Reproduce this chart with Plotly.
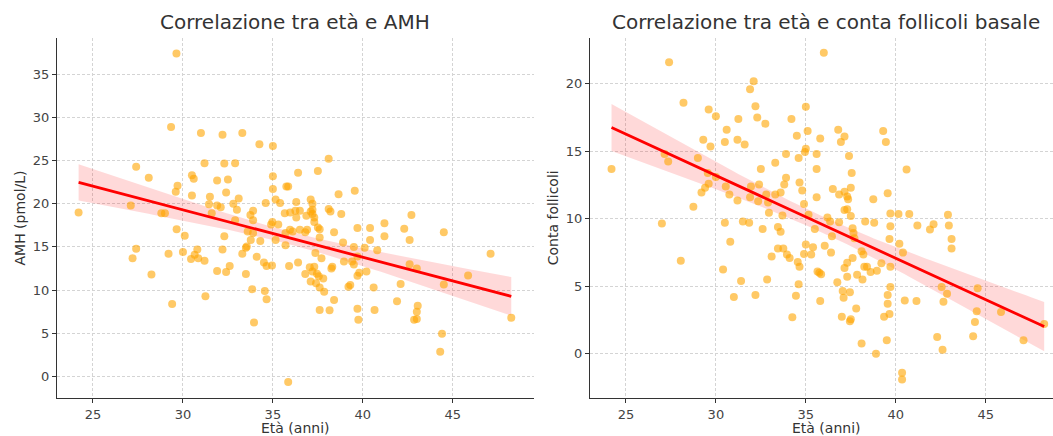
import numpy as np
import plotly.graph_objects as go

# ---------------- data ----------------
age_amh = [29.64, 29.34, 31.0, 32.2, 33.3, 34.25, 35.0, 27.4, 28.1, 31.2, 32.3, 32.9, 35.0, 36.4,
           30.5, 30.6, 29.7, 29.6, 31.9, 32.5, 32.4, 30.5, 31.5, 33.1, 31.45, 31.9, 32.1, 32.8,
           33.0, 34.6, 35.0, 35.15, 35.4, 35.75, 35.85, 36.3, 27.1, 24.2, 28.8, 29.0, 31.6, 33.75,
           33.9, 33.9, 32.9, 35.66, 35.96, 36.25, 36.5, 36.3, 34.97, 34.9, 35.3, 29.65, 30.1, 32.3,
           33.6, 33.9, 27.4, 27.2, 29.2, 30.0, 30.8, 30.65, 30.45, 30.85, 31.2, 32.2, 31.9, 32.4,
           32.6, 33.3, 33.5, 33.77, 34.1, 34.3, 34.5, 34.65, 34.95, 33.5, 28.25, 29.4, 31.25, 33.85,
           34.55, 34.65, 33.95, 35.85, 35.15, 35.7, 35.9, 36.4, 35.95, 36.5, 35.7, 36.8, 38.1, 37.5,
           38.65, 39.55, 37.1, 37.2, 37.2, 37.2, 37.3, 37.3, 37.1, 36.86, 38.1, 38.2, 38.8, 37.5,
           37.6, 37.6, 38.4, 36.9, 36.8, 36.1, 39.7, 40.4, 41.2, 42.3, 42.7, 40.4, 41.2, 42.6, 38.9,
           39.5, 40.1, 40.8, 37.36, 37.7, 38.95, 39.4, 39.5, 39.7, 40.2, 40.6, 42.1, 42.6, 43.0,
           37.05, 37.3, 37.2, 37.45, 37.55, 37.8, 37.1, 37.4, 37.6, 37.85, 38.25, 38.3, 39.8, 39.7,
           39.3, 39.2, 38.4, 37.6, 38.15, 39.7, 40.65, 41.9, 43.05, 43.0, 39.75, 44.5, 47.1, 45.85,
           44.5, 48.25, 43.0, 42.85, 44.4, 44.3, 33.55]
amh = [37.4, 28.9, 28.2, 28.0, 28.2, 26.9, 26.7, 24.3, 23.0, 24.7, 24.65, 24.7, 23.2, 23.6,
       23.3, 22.9, 22.1, 21.4, 22.7, 22.8, 21.3, 20.95, 20.8, 20.6, 19.95, 19.8, 19.6, 20.0,
       19.3, 20.1, 21.7, 20.5, 20.1, 22.0, 22.0, 20.2, 19.8, 19.0, 18.9, 18.9, 18.9, 18.7,
       19.2, 18.1, 18.1, 18.9, 19.0, 19.2, 19.2, 18.4, 17.9, 17.6, 17.6, 17.05, 16.3, 16.25,
       16.8, 16.6, 14.8, 13.7, 14.2, 14.4, 14.7, 14.1, 13.6, 13.7, 13.4, 14.7, 12.2, 12.1,
       12.8, 14.2, 14.9, 15.8, 13.85, 15.7, 13.2, 12.8, 12.85, 11.85, 11.8, 8.4, 9.3, 10.1,
       9.9, 8.95, 6.25, -0.65, 15.8, 15.2, 12.8, 13.2, 17.0, 17.0, 16.6, 11.85, 25.2, 23.8,
       21.1, 21.5, 20.5, 20.0, 19.3, 18.8, 18.4, 17.9, 19.1, 18.6, 19.4, 19.1, 18.8, 17.25,
       17.05, 16.1, 16.7, 17.0, 16.7, 16.8, 17.2, 17.2, 17.75, 17.1, 18.7, 15.8, 16.25, 15.8, 15.5,
       15.0, 14.9, 14.6, 14.3, 13.7, 13.3, 13.3, 12.95, 13.9, 12.15, 10.3, 10.7, 13.0, 12.5,
       12.65, 12.7, 12.15, 11.9, 11.6, 11.35, 11.0, 10.8, 10.3, 9.8, 12.5, 12.7, 12.0, 11.65,
       10.6, 10.4, 8.85, 7.7, 7.65, 7.85, 7.7, 8.7, 8.2, 7.5, 6.55, 16.7, 14.2, 11.7,
       10.65, 6.8, 6.65, 6.55, 4.95, 2.85, 15.05]

age_afc = [27.4, 24.2, 28.2, 27.15, 27.35, 29.0, 29.3, 29.7, 29.6, 30.0, 30.6, 30.5, 31.2, 31.6,
           31.25, 31.9, 32.1, 32.2, 32.3, 32.75, 29.55, 29.6, 30.0, 29.4, 29.2, 28.75, 27.0, 30.55,
           30.75, 31.2, 30.5, 31.95, 31.9, 32.35, 32.5, 32.4, 32.8, 32.9, 32.95, 33.3, 33.3, 33.6,
           33.7, 33.8, 33.9, 33.9, 33.45, 33.6, 32.6, 31.5, 31.85, 34.5, 34.6, 34.65, 34.8, 34.9,
           34.95, 35.0, 35.0, 35.1, 35.15, 35.6, 35.6, 35.6, 35.8, 35.5, 34.2, 28.05, 30.8, 30.4,
           31.4, 31.0, 32.2, 32.85, 33.1, 33.45, 33.75, 33.95, 34.1, 34.55, 34.65, 34.6, 34.45,
           34.25, 35.0, 34.9, 35.3, 35.4, 35.65, 35.75, 35.8, 36.8, 37.15, 36.95, 39.3, 39.45,
           37.4, 37.55, 40.6, 36.5, 36.85, 37.15, 37.3, 37.35, 37.5, 38.75, 39.55, 37.15, 37.3,
           37.5, 39.7, 40.15, 40.75, 41.2, 41.9, 42.1, 39.7, 39.65, 36.2, 36.35, 36.45, 36.85,
           37.6, 37.65, 37.7, 38.3, 38.8, 36.05, 36.4, 35.85, 36.75, 37.15, 37.3, 37.3, 37.6,
           37.85, 38.1, 38.2, 38.15, 38.25, 38.4, 38.6, 38.95, 39.2, 39.7, 40.4, 40.2, 39.7,
           37.05, 37.45, 37.1, 37.8, 37.0, 37.45, 37.5, 39.55, 39.55, 39.65, 39.35, 40.5, 41.15,
           38.1, 38.9, 39.5, 40.35, 40.35, 42.3, 36.0, 42.9, 42.95, 43.1, 43.1, 42.55, 42.85,
           42.65, 44.55, 44.5, 44.4, 44.3, 45.85, 47.1, 48.25, 42.6]
afc = [21.6, 13.7, 18.6, 14.8, 14.25, 14.5, 15.85, 15.35, 18.1, 17.6, 16.6, 15.7, 15.85, 15.5,
       17.4, 19.6, 20.2, 18.35, 17.5, 17.05, 13.4, 12.6, 13.1, 12.3, 11.95, 10.9, 9.65, 12.4,
       11.8, 11.35, 9.7, 12.4, 11.6, 11.3, 13.7, 12.55, 11.8, 11.2, 10.45, 11.8, 14.15, 11.95,
       10.25, 12.55, 13.05, 14.8, 9.4, 9.05, 9.25, 9.8, 9.7, 16.15, 14.5, 12.7, 12.1, 11.1,
       14.95, 15.2, 18.3, 16.5, 10.3, 14.8, 13.7, 11.6, 15.95, 9.25, 17.4, 6.9, 8.3, 6.25,
       5.4, 4.2, 4.35, 5.5, 7.2, 7.8, 7.8, 7.35, 7.1, 6.8, 6.45, 5.15, 4.3,
       2.7, 8.1, 7.4, 7.35, 7.9, 6.1, 6.0, 3.9, 16.6, 16.1, 15.7, 16.5, 15.7,
       14.65, 13.4, 13.65, 12.2, 11.8, 12.0, 11.65, 11.45, 12.3, 11.45, 11.9, 10.65, 10.7,
       10.2, 10.4, 10.35, 10.35, 9.5, 9.2, 9.6, 9.45, 8.5, 10.1, 9.8, 8.7, 9.75,
       9.3, 8.95, 8.55, 9.8, 9.7, 8.0, 7.5, 5.9, 5.3, 6.35, 6.75, 5.7, 7.1,
       5.85, 7.6, 7.35, 5.5, 6.45, 6.45, 6.05, 6.15, 6.7, 6.45, 7.5, 8.15, 4.95,
       4.65, 4.55, 4.15, 3.35, 2.75, 2.4, 2.55, 4.35, 3.7, 2.95, 2.75, 3.95, 3.9,
       0.75, 0.0, 1.0, -1.4, -1.9, 1.25, 22.3, 10.3, 9.5, 8.5, 7.8, 4.95, 4.45,
       3.85, 4.85, 3.15, 2.35, 1.3, 3.1, 1.0, 2.2, 0.3]

x_ticks = [25, 30, 35, 40, 45]
y_ticks_amh = [0, 5, 10, 15, 20, 25, 30, 35]
y_ticks_afc = [0, 5, 10, 15, 20]

titles = ["Correlazione tra età e AMH", "Correlazione tra età e conta follicoli basale"]
x_label = "Età (anni)"
y_labels = ["AMH (pmol/L)", "Conta follicoli"]


def fit_band(x, y, n_pts=100):
    x = np.asarray(x, float)
    y = np.asarray(y, float)
    b, a = np.polyfit(x, y, 1)
    xs = np.linspace(x.min(), x.max(), n_pts)
    yhat = a + b * xs
    n = len(x)
    resid = y - (a + b * x)
    s = np.sqrt(np.sum(resid ** 2) / (n - 2))
    sxx = np.sum((x - x.mean()) ** 2)
    se = s * np.sqrt(1.0 / n + (xs - x.mean()) ** 2 / sxx)
    return xs, yhat, yhat - 1.97 * se, yhat + 1.97 * se


W, H = 1053, 436
ML, MR, MT, MB = 56.5, 0, 38, 38
pw = W - ML - MR
ph = H - MT - MB


def px_x(p):
    return (p - ML) / pw


def px_y(p):
    return 1 - (p - MT) / ph


fig = go.Figure()

series = [(age_amh, amh, "x", "y"), (age_afc, afc, "x2", "y2")]
for xs_, ys_, xa, ya in series:
    gx, gy, lo, hi = fit_band(xs_, ys_)
    fig.add_trace(go.Scatter(x=list(gx) + list(gx[::-1]), y=list(hi) + list(lo[::-1]),
                             fill="toself", fillcolor="rgba(255,0,0,0.15)",
                             line=dict(width=0), mode="lines", hoverinfo="skip",
                             xaxis=xa, yaxis=ya, showlegend=False))
    fig.add_trace(go.Scatter(x=xs_, y=ys_, mode="markers",
                             marker=dict(color="rgba(255,165,0,0.6)", size=8, line=dict(width=0)),
                             xaxis=xa, yaxis=ya, showlegend=False))
    fig.add_trace(go.Scatter(x=gx, y=gy, mode="lines", line=dict(color="#ff0000", width=2.8),
                             xaxis=xa, yaxis=ya, showlegend=False))

axis_common = dict(showgrid=True, gridcolor="#d4d4d4", griddash="3px,2px", gridwidth=1,
                   showline=True, linecolor="#333333", linewidth=1.2, mirror=False,
                   ticks="outside", ticklen=4, tickcolor="#333333", tickwidth=1,
                   zeroline=False, tickfont=dict(family="DejaVu Sans", size=13, color="#444444"))

fig.update_layout(
    width=W, height=H,
    margin=dict(l=ML, r=MR, t=MT, b=MB),
    plot_bgcolor="white", paper_bgcolor="white",
    font=dict(family="DejaVu Sans", color="#333333"),
    xaxis=dict(domain=[0, px_x(533.5)], range=[23.0, 49.5], tickvals=x_ticks, anchor="y", **axis_common),
    yaxis=dict(domain=[0, 1], range=[-2.5, 39.2], tickvals=y_ticks_amh, anchor="x", **axis_common),
    xaxis2=dict(domain=[px_x(589.7), 1], range=[23.0, 23.0 + (1053 - 589.7) / 18.0], tickvals=x_ticks,
                anchor="y2", **axis_common),
    yaxis2=dict(domain=[0, 1], range=[-3.28, 23.4], tickvals=y_ticks_afc, anchor="x2", **axis_common),
)

ann = []
ann.append(dict(text=titles[0], x=px_x(295), y=px_y(22), xref="paper", yref="paper",
                showarrow=False, xanchor="center", yanchor="middle",
                font=dict(family="DejaVu Sans", size=20, color="#333333")))
ann.append(dict(text=titles[1], x=px_x(826), y=px_y(22), xref="paper", yref="paper",
                showarrow=False, xanchor="center", yanchor="middle",
                font=dict(family="DejaVu Sans", size=20, color="#333333")))
ann.append(dict(text=x_label, x=px_x(295), y=px_y(428), xref="paper", yref="paper",
                showarrow=False, xanchor="center", yanchor="middle",
                font=dict(family="DejaVu Sans", size=14, color="#333333")))
ann.append(dict(text=x_label, x=px_x(826), y=px_y(428), xref="paper", yref="paper",
                showarrow=False, xanchor="center", yanchor="middle",
                font=dict(family="DejaVu Sans", size=14, color="#333333")))
ann.append(dict(text=y_labels[0], x=px_x(19), y=px_y(218), xref="paper", yref="paper",
                showarrow=False, xanchor="center", yanchor="middle", textangle=-90,
                font=dict(family="DejaVu Sans", size=14, color="#333333")))
ann.append(dict(text=y_labels[1], x=px_x(553), y=px_y(218), xref="paper", yref="paper",
                showarrow=False, xanchor="center", yanchor="middle", textangle=-90,
                font=dict(family="DejaVu Sans", size=14, color="#333333")))
fig.update_layout(annotations=ann)

fig.write_html("out.html")
